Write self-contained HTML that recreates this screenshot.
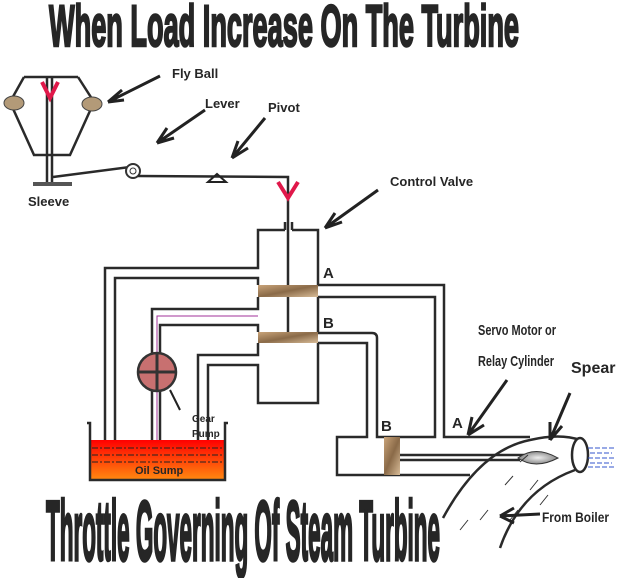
<!DOCTYPE html>
<html><head><meta charset="utf-8"><style>
html,body{margin:0;padding:0;background:#fff;width:619px;height:578px;overflow:hidden}
svg{display:block}
.t{font-family:"Liberation Sans",sans-serif;font-weight:bold;fill:#262626}
.p{fill:none;stroke:#2a2a2a;stroke-width:2.5}
</style></head><body>
<svg width="619" height="578" viewBox="0 0 619 578">
<defs>
<linearGradient id="oil" x1="0" y1="0" x2="0" y2="1"><stop offset="0" stop-color="#f00"/><stop offset="1" stop-color="#ff8a10"/></linearGradient>
<linearGradient id="wood" x1="0" y1="0" x2="1" y2="1"><stop offset="0" stop-color="#c9a47a"/><stop offset=".5" stop-color="#8a6a48"/><stop offset="1" stop-color="#d8bc98"/></linearGradient>
<radialGradient id="spear"><stop offset="0" stop-color="#eee"/><stop offset="1" stop-color="#888"/></radialGradient>
</defs>
<text class="t" x="49" y="46" font-size="58" textLength="470" lengthAdjust="spacingAndGlyphs" stroke="#262626" stroke-width="2.5">When Load Increase On The Turbine</text>
<text class="t" x="46" y="560" font-size="84" textLength="394" lengthAdjust="spacingAndGlyphs" stroke="#262626" stroke-width="3.5">Throttle Governing Of Steam Turbine</text>

<g>
<path class="p" d="M24 77 H78 M24 77 L10 102 L34 155 H70 L94 102 L78 77"/>
<path class="p" d="M47 77 V183 M52 77 V183"/>
<rect x="33" y="182" width="39" height="4" fill="#555"/>
<path d="M42 82 L50 98 L58 82" fill="none" stroke="#e0184a" stroke-width="4"/>
<ellipse cx="14" cy="103" rx="10" ry="7" fill="#b39a78" stroke="#444"/>
<ellipse cx="92" cy="104" rx="10" ry="7" fill="#b39a78" stroke="#444"/>
<path class="p" d="M53 177 L130 167"/>
<circle cx="133" cy="171" r="7" fill="#fff" stroke="#333" stroke-width="2"/><circle cx="133" cy="171" r="3" fill="none" stroke="#333"/>
<path class="p" d="M138 176 L288 177 V230"/>
<path d="M208 182 L217 174 L226 182 Z" fill="none" stroke="#222" stroke-width="2"/>
<path d="M278 182 L288 198 L298 182" fill="none" stroke="#e0184a" stroke-width="4"/>
</g>

<g>
<path class="p" d="M285 230 H258 V268 H105 V443 M292 230 H318 V285 M318 297 V332 M318 343 V403 H258 V365 H208 V443"/>
<path class="p" d="M115 443 V278 H258 V285 M258 297 V309 H152 V443 M160 443 V325 H258 V332 M258 343 V355 H198 V443"/>
<path class="p" d="M285 222 V230 M292 222 V230"/>
<path d="M157 443 V316 H258" fill="none" stroke="#a0309a" stroke-width="1"/>
<path class="p" d="M288 230 V332"/>
<rect x="258" y="285" width="60" height="12" fill="url(#wood)"/>
<rect x="258" y="332" width="60" height="11" fill="url(#wood)"/>
<path class="p" d="M318 285 H444 V437 H530 M318 297 H435 V437 H377 V338 Q377 333 372 333 H318 M318 343 H367 V437 H337 V475 H470"/>
<rect x="384" y="437" width="16" height="38" fill="url(#wood)"/>
<path class="p" d="M400 455 H525 M400 460 H520" stroke-width="2"/>
</g>

<g>
<path class="p" d="M443 518 Q480 450 530 440 Q560 433 580 440 M500 548 Q520 490 575 470"/>
<ellipse cx="580" cy="455" rx="8" ry="17" fill="#fff" stroke="#2a2a2a" stroke-width="2.5"/>
<path d="M518 458 Q535 445 558 458 Q535 470 518 458Z" fill="url(#spear)" stroke="#333"/>
<path d="M588 448 H615 M590 453 H612 M588 458 H616 M590 463 H612 M588 467 H614" stroke="#3355cc" stroke-width="1" stroke-dasharray="5 2"/>
<path d="M520 462 L528 455 M505 485 L513 476 M480 520 L488 510 M460 530 L468 520 M510 520 L518 510 M530 490 L538 480 M540 505 L548 495" stroke="#333" stroke-width="1"/>
</g>

<g>
<rect x="90" y="440" width="135" height="40" fill="url(#oil)"/>
<path class="p" d="M87 423 H90 V480 H225 V423 H228" stroke-width="2"/>
<path d="M92 448 H223 M92 455 H223 M92 462 H223" stroke="#222" stroke-width="1" stroke-dasharray="6 2 2 2"/>
<text class="t" x="135" y="474" font-size="11">Oil Sump</text>
</g>

<g>
<circle cx="157" cy="372" r="19" fill="#c87070" stroke="#333" stroke-width="2.5"/>
<path d="M157 353 V391 M138 372 H176" stroke="#333" stroke-width="3"/>
</g>

<g stroke="#222" stroke-width="3" fill="none">
<path d="M160 76 L108 102 M108 102 L122 90 M108 102 L124 100"/>
<path d="M205 110 L157 143 M157 143 L167 128 M157 143 L174 138"/>
<path d="M265 118 L232 158 M232 158 L238 141 M232 158 L248 148"/>
<path d="M378 190 L325 228 M325 228 L335 213 M325 228 L342 222"/>
<path d="M507 380 L468 435 M468 435 L472 417 M468 435 L484 425"/>
<path d="M570 393 L550 440 M550 440 L550 422 M550 440 L562 426"/>
<path d="M540 514 L500 516 M500 516 L514 508 M500 516 L514 523"/>
<path d="M180 410 L170 390" stroke-width="2"/>
</g>

<g>
<text class="t" x="172" y="78" font-size="13">Fly Ball</text>
<text class="t" x="205" y="108" font-size="13">Lever</text>
<text class="t" x="268" y="112" font-size="13">Pivot</text>
<text class="t" x="28" y="206" font-size="13">Sleeve</text>
<text class="t" x="390" y="186" font-size="13">Control Valve</text>
<text class="t" x="323" y="278" font-size="15">A</text>
<text class="t" x="323" y="328" font-size="15">B</text>
<text class="t" x="381" y="431" font-size="15">B</text>
<text class="t" x="452" y="428" font-size="15">A</text>
<text class="t" x="478" y="335" font-size="15" textLength="78" lengthAdjust="spacingAndGlyphs">Servo Motor or</text>
<text class="t" x="478" y="366" font-size="15" textLength="76" lengthAdjust="spacingAndGlyphs">Relay Cylinder</text>
<text class="t" x="571" y="373" font-size="16">Spear</text>
<text class="t" x="542" y="522" font-size="14" textLength="67" lengthAdjust="spacingAndGlyphs">From Boiler</text>
<text class="t" x="192" y="422" font-size="10">Gear</text>
<text class="t" x="192" y="437" font-size="10">Pump</text>
</g>
</svg>
</body></html>
